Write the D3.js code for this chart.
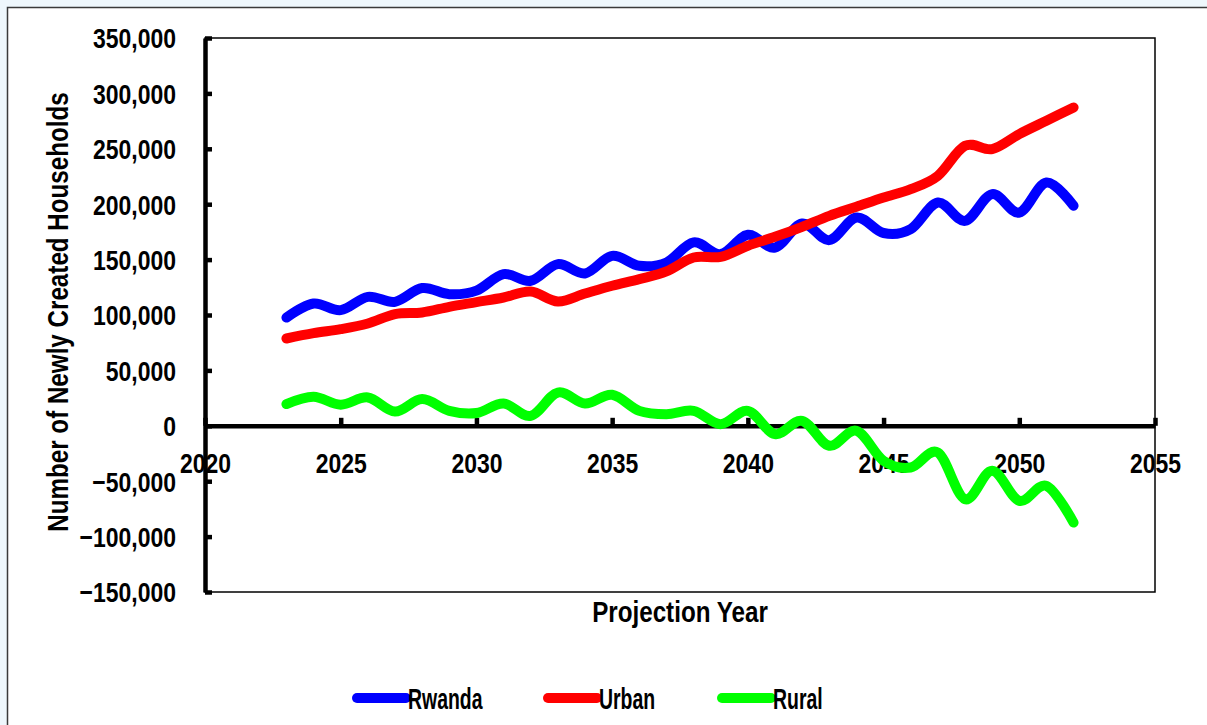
<!DOCTYPE html>
<html>
<head>
<meta charset="utf-8">
<script src="https://cdn.jsdelivr.net/npm/d3@7/dist/d3.min.js"></script>
<style>
  html, body { margin: 0; padding: 0; background: #eef7fc; }
  svg { display: block; }
</style>
</head>
<body>
<svg id="chart" width="1207" height="725"></svg>
<script>
// Projected number of newly created households, 2023-2052
const years = [2023, 2024, 2025, 2026, 2027, 2028, 2029, 2030, 2031, 2032,
               2033, 2034, 2035, 2036, 2037, 2038, 2039, 2040, 2041, 2042,
               2043, 2044, 2045, 2046, 2047, 2048, 2049, 2050, 2051, 2052];

const rwanda = [97700, 110400, 104400, 116400, 111900, 124300, 118800, 122000, 136900, 130900,
                145900, 137500, 153400, 144400, 147400, 165500, 155000, 172400, 160900, 182600,
                167600, 188000, 174000, 177500, 201500, 185000, 209100, 192500, 219600, 198600];

const urban = [78800, 83600, 87200, 92300, 100800, 102300, 107400, 111600, 115800, 121200,
               112200, 119400, 126400, 132400, 139300, 151900, 152500, 162500, 170600, 179600,
               189500, 197700, 206000, 213600, 225600, 252700, 249700, 263300, 275300, 287300];

const rural = [19600, 26200, 19000, 25600, 12900, 24100, 13500, 11500, 20100, 9000,
               30000, 20100, 28000, 13500, 10500, 13500, 1500, 13500, -7500, 4500,
               -18000, -4500, -31600, -37600, -24100, -66200, -40600, -67700, -54200, -87300];

const seriesNames = ["Rwanda", "Urban", "Rural"];
const seriesColors = ["#0000ff", "#ff0000", "#00ff00"];

const xTicks = [2020, 2025, 2030, 2035, 2040, 2045, 2050, 2055];
const yTicks = [-150000, -100000, -50000, 0, 50000, 100000, 150000, 200000, 250000, 300000, 350000];

// Pick a condensed bold face if one is installed
function hasFont(name) {
  const ctx = document.createElement("canvas").getContext("2d");
  const s = "mmmmmwwwwwiiiii0123456789";
  ctx.font = "bold 40px monospace";
  const a = ctx.measureText(s).width;
  ctx.font = `bold 40px "${name}", monospace`;
  const b = ctx.measureText(s).width;
  return a !== b;
}
const narrow = hasFont("Liberation Sans Narrow");
const FONT = narrow ? "'Liberation Sans Narrow', 'Arial Narrow', sans-serif"
                    : "'Liberation Sans', Arial, sans-serif";

// Squeeze text horizontally by a factor (on top of the narrow face)
function condense(sel, factor) {
  const f = factor * (narrow ? 1 : 0.82);
  if (f === 1) return;
  sel.each(function () {
    const w = this.getComputedTextLength();
    d3.select(this).attr("textLength", w * f).attr("lengthAdjust", "spacingAndGlyphs");
  });
}

const svg = d3.select("#chart");

// Chart frame
svg.append("rect")
  .attr("x", 7.5).attr("y", 7.5)
  .attr("width", 1220).attr("height", 740)
  .attr("fill", "#ffffff")
  .attr("stroke", "#3a3a3a").attr("stroke-width", 1.5);

const plot = { left: 205, right: 1155, top: 38, bottom: 592 };

const x = d3.scaleLinear().domain([2020, 2055]).range([plot.left, plot.right]);
const y = d3.scaleLinear().domain([-150000, 350000]).range([plot.bottom, plot.top]);

// Plot area outline
svg.append("rect")
  .attr("x", plot.left).attr("y", plot.top)
  .attr("width", plot.right - plot.left).attr("height", plot.bottom - plot.top)
  .attr("fill", "none").attr("stroke", "#000").attr("stroke-width", 1.5);

const fmt = d3.format(",");

// Y axis
const yAxis = svg.append("g")
  .attr("transform", `translate(${plot.left},0)`)
  .call(d3.axisLeft(y).tickValues(yTicks).tickFormat(d => d === 0 ? "0" : fmt(d))
        .tickSizeInner(-7).tickSizeOuter(0).tickPadding(29));
yAxis.select(".domain").attr("stroke", "#000").attr("stroke-width", 4.5);
yAxis.selectAll(".tick line").attr("stroke", "#000").attr("stroke-width", 4.5);
yAxis.selectAll(".tick text")
  .attr("font-family", FONT).attr("font-weight", "bold").attr("font-size", 28)
  .attr("fill", "#000").attr("dy", "0.35em");

// X axis crossing at zero
const xAxis = svg.append("g")
  .attr("transform", `translate(0,${y(0)})`)
  .call(d3.axisBottom(x).tickValues(xTicks).tickFormat(d3.format("d"))
        .tickSizeInner(0).tickSizeOuter(0).tickPadding(27));
xAxis.select(".domain").attr("stroke", "#000").attr("stroke-width", 4.5);
xAxis.selectAll(".tick line").attr("y2", -8).attr("stroke", "#000").attr("stroke-width", 4.5);
xAxis.selectAll(".tick text")
  .attr("font-family", FONT).attr("font-weight", "bold").attr("font-size", 28)
  .attr("fill", "#000");

// Axis titles
svg.append("text")
  .attr("transform", "rotate(-90)")
  .attr("x", -((plot.top + plot.bottom) / 2 - 3))
  .attr("y", 68)
  .attr("text-anchor", "middle")
  .attr("font-family", FONT).attr("font-weight", "bold").attr("font-size", 29.5)
  .text("Number of Newly Created Households");

svg.append("text")
  .attr("x", (plot.left + plot.right) / 2)
  .attr("y", 622)
  .attr("text-anchor", "middle")
  .attr("font-family", FONT).attr("font-weight", "bold").attr("font-size", 29.5)
  .text("Projection Year");

// Series lines
const series = [rwanda, urban, rural];
const line = d3.line()
  .x((d, i) => x(years[i]))
  .y(d => y(d))
  .curve(d3.curveCatmullRom.alpha(0));

series.forEach((vals, k) => {
  svg.append("path")
    .datum(vals)
    .attr("fill", "none")
    .attr("stroke", seriesColors[k])
    .attr("stroke-width", 10)
    .attr("stroke-linecap", "round")
    .attr("stroke-linejoin", "round")
    .attr("d", line);
});

// Legend
const legendX = [357, 548, 722];
const legendY = 698;
seriesNames.forEach((name, k) => {
  const g = svg.append("g").attr("class", "legend-item")
    .attr("transform", `translate(${legendX[k]},${legendY})`);
  g.append("line")
    .attr("x1", 0).attr("x2", 49).attr("y1", 0).attr("y2", 0)
    .attr("stroke", seriesColors[k]).attr("stroke-width", 10)
    .attr("stroke-linecap", "round");
  g.append("text")
    .attr("x", 51).attr("y", 10.5)
    .attr("font-family", FONT).attr("font-weight", "bold").attr("font-size", 30)
    .text(name);
});

// Tall, tightly set legend labels; plain narrow face elsewhere
condense(svg.selectAll(".legend-item text"), 0.79);
condense(svg.selectAll("text").filter(function () {
  return !this.closest(".legend-item");
}), 1);
</script>
</body>
</html>
